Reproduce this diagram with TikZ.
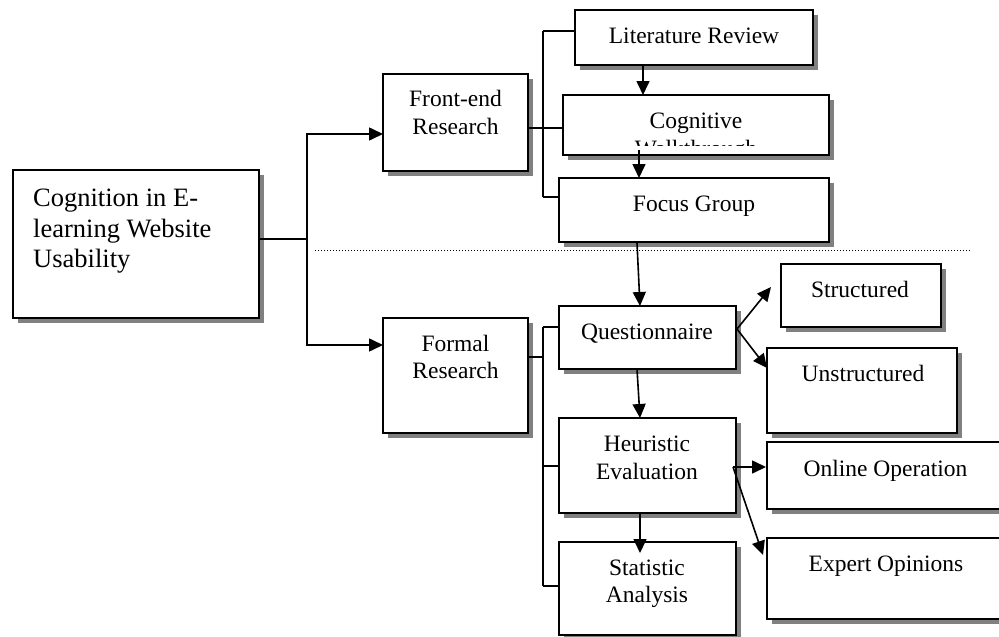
\documentclass[tikz,border=0pt]{standalone}
\usepackage{fontspec}
\setmainfont{Liberation Serif}
\usetikzlibrary{arrows.meta,shadows}
\begin{document}
\begin{tikzpicture}[x=1pt,y=-1pt,
  box/.style={draw=black,line width=1.9pt,fill=white,inner sep=0pt,outer sep=0pt,
    general shadow={fill=black!50,shadow xshift=5pt,shadow yshift=-5pt}},
  txt/.style={font=\fontsize{23.5}{28}\selectfont,anchor=base,inner sep=0pt},
  bigtxt/.style={font=\fontsize{26.5}{31}\selectfont,anchor=base west,inner sep=0pt},
  con/.style={line width=1.6pt},
  arr/.style={line width=1.6pt,-{Triangle[length=14pt,width=13pt]}}]
\useasboundingbox (0,0) rectangle (999,637);
% boxes
\node[box,minimum width=246pt,minimum height=148pt] (main) at (136,244) {};
\node[box,minimum width=145pt,minimum height=97pt] (fe) at (455.5,122.5) {};
\node[box,minimum width=238pt,minimum height=55pt] (lit) at (694,37.5) {};
\node[box,minimum width=266pt,minimum height=60pt] (cog) at (696,125) {};
\node[box,minimum width=270pt,minimum height=64pt] (foc) at (694,210) {};
\node[box,minimum width=145pt,minimum height=115pt] (fr) at (455.5,375.5) {};
\node[box,minimum width=177pt,minimum height=63pt] (que) at (647.5,337.5) {};
\node[box,minimum width=177pt,minimum height=95pt] (heu) at (647.5,465.5) {};
\node[box,minimum width=177pt,minimum height=93pt] (sta) at (647.5,588.5) {};
\node[box,minimum width=160pt,minimum height=63pt] (str) at (861,295.5) {};
\node[box,minimum width=190pt,minimum height=85pt] (uns) at (862,390.5) {};
\node[box,minimum width=243pt,minimum height=67pt] (onl) at (888.5,475.5) {};
\node[box,minimum width=243pt,minimum height=81pt] (exp) at (888.5,578.5) {};
% texts
\node[bigtxt] (m1) at (33,206) {Cognition in E-};
\node[bigtxt] (m2) at (33,237) {learning Website};
\node[bigtxt] (m3) at (33,267) {Usability};
\node[txt] (fe1) at (455.5,106) {Front-end};
\node[txt] (fe2) at (455.5,134) {Research};
\node[txt] (lit1) at (694,43) {Literature Review};
\node[txt] (cog1) at (696,128) {Cognitive};
\begin{scope}
\clip (565,100) rectangle (827,145);
\node[txt] (cog2) at (696,156) {Walkthrough};
\end{scope}
\node[txt] (foc1) at (694,211) {Focus Group};
\node[txt] (fr1) at (455.5,351) {Formal};
\node[txt] (fr2) at (455.5,378) {Research};
\node[txt] (que1) at (647,339) {Questionnaire};
\node[txt] (heu1) at (647,451) {Heuristic};
\node[txt] (heu2) at (647,479) {Evaluation};
\node[txt] (sta1) at (647,575) {Statistic};
\node[txt] (sta2) at (647,602) {Analysis};
\node[txt] (str1) at (860,297) {Structured};
\node[txt] (uns1) at (863,381) {Unstructured};
\node[txt] (onl1) at (885.5,476) {Online Operation};
\node[txt] (exp1) at (886,571) {Expert Opinions};
% dotted separator
\coordinate (d1) at (315,250);
\coordinate (d2) at (970,250);
\draw[line width=1pt,dotted] (d1) -- (d2);
% main split
\coordinate (j1) at (307,239);
\coordinate (afe) at (383,134);
\coordinate (afr) at (383,345);
\draw[con] (main.east |- j1) -- (j1);
\draw[arr] (j1) |- (afe);
\draw[arr] (j1) |- (afr);
% front-end bracket
\coordinate (b1) at (543,128);
\coordinate (b1t) at (543,31);
\coordinate (b1b) at (543,197);
\draw[con] (fe.east |- b1) -- (cog.west |- b1);
\draw[con] (b1t) -- (b1b);
\draw[con] (b1t) -- (lit.west |- b1t);
\draw[con] (b1b) -- (foc.west |- b1b);
\draw[arr] (643,65) -- (643,95);
\draw[arr] (639,150) -- (foc.north -| 639,0);
% focus to questionnaire
\draw[arr] (637,243) -- (640,306);
% formal bracket
\coordinate (b2) at (543,357);
\coordinate (b2t) at (543,327);
\coordinate (b2m) at (543,466);
\coordinate (b2b) at (543,586);
\draw[con] (fr.east |- b2) -- (b2);
\draw[con] (b2t) -- (b2b);
\draw[con] (b2t) -- (que.west |- b2t);
\draw[con] (b2m) -- (heu.west |- b2m);
\draw[con] (b2b) -- (sta.west |- b2b);
% vertical chain
\draw[arr] (637,369) -- (640,418);
\coordinate (hs1) at (640,513);
\coordinate (hs2) at (640,553);
\draw[arr] (hs1) -- (hs2);
% questionnaire split
\coordinate (qo) at (737,329);
\coordinate (qs) at (771,287);
\coordinate (qu) at (767,368);
\draw[arr] (qo) -- (qs);
\draw[arr] (qo) -- (qu);
% heuristic split
\coordinate (ho) at (733,467);
\coordinate (hon) at (766,467);
\coordinate (hex) at (763,555);
\draw[arr] (ho) -- (hon);
\draw[arr] (ho) -- (hex);
\end{tikzpicture}
\end{document}
